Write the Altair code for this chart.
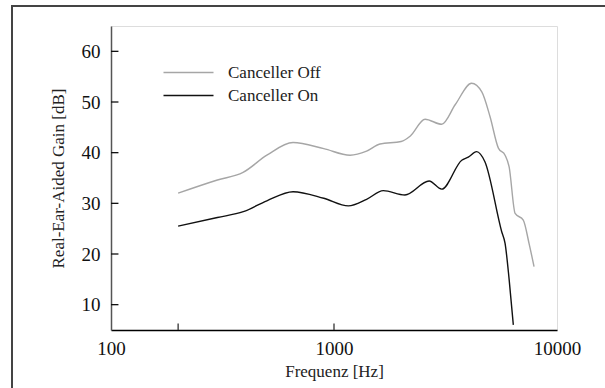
import altair as alt
import pandas as pd

# Canceller Off (grey)
off_freq = [200, 300, 391, 500, 655, 900, 1180, 1400, 1607, 2000, 2200, 2560, 3040, 3500, 4140, 4600, 5010, 5460, 5850, 6100, 6490, 7060, 7500, 7890]
off_gain = [32.0, 34.6, 36.1, 39.5, 42.0, 40.8, 39.5, 40.3, 41.7, 42.2, 43.3, 46.6, 45.6, 49.5, 53.7, 52.0, 47.1, 40.9, 39.5, 37.2, 28.0, 26.7, 22.0, 17.5]

# Canceller On (black)
on_freq = [200, 300, 392, 500, 655, 900, 1160, 1400, 1664, 2080, 2670, 3040, 3740, 4000, 4360, 4750, 5650, 5850, 6100, 6370]
on_gain = [25.5, 27.2, 28.35, 30.5, 32.3, 31.0, 29.5, 30.8, 32.5, 31.65, 34.4, 32.8, 38.5, 39.1, 40.2, 38.2, 24.4, 22.1, 15.0, 6.0]

series_names = ["Canceller Off", "Canceller On"]
series_colors = ["#a6a6a6", "#111111"]

y_ticks = [10, 20, 30, 40, 50, 60]
x_labels = [100, 1000, 10000]
x_inner_ticks = [200, 1000]

df = pd.concat([
    pd.DataFrame({"freq": off_freq, "gain": off_gain, "series": series_names[0]}),
    pd.DataFrame({"freq": on_freq, "gain": on_gain, "series": series_names[1]}),
])

FONT = "Liberation Serif"
xscale = alt.Scale(type="log", domain=[100, 10000], nice=False)
yscale = alt.Scale(domain=[5, 65], nice=False, zero=False)

lines = alt.Chart(df).mark_line(interpolate="monotone", strokeWidth=1.4).encode(
    x=alt.X("freq:Q", scale=xscale,
            axis=alt.Axis(values=x_labels, format="d", ticks=False, grid=False, labelFlush=False,
                          title="Frequenz [Hz]", labelPadding=9, titlePadding=5,
                          domainColor="#000", domainWidth=1.5,
                          labelFontSize=19, titleFontSize=17, labelFont=FONT, titleFont=FONT,
                          titleFontWeight="normal", labelColor="#111", titleColor="#222")),
    y=alt.Y("gain:Q", scale=yscale,
            axis=alt.Axis(values=y_ticks, ticks=False, grid=False, labelFlush=False,
                          title="Real-Ear-Aided Gain [dB]", labelPadding=11, titlePadding=14,
                          domainColor="#555", domainWidth=1.5,
                          labelFontSize=19, titleFontSize=17, labelFont=FONT, titleFont=FONT,
                          titleFontWeight="normal", labelColor="#111", titleColor="#222")),
    color=alt.Color("series:N", scale=alt.Scale(domain=series_names, range=series_colors),
                    legend=alt.Legend(title=None, orient="none", legendX=69, legendY=38,
                                      symbolType="M-5,0H5", symbolSize=100, symbolStrokeWidth=1.6,
                                      labelFont=FONT, labelFontSize=17, labelColor="#222",
                                      labelOffset=31, rowPadding=5)),
)

# inward tick marks on the y axis (short rules from the x-scale minimum)
ytick_df = pd.DataFrame({"tgain": y_ticks, "f0": [100.0] * len(y_ticks), "f1": [108.0] * len(y_ticks)})
yticks = alt.Chart(ytick_df).mark_rule(color="#111", strokeWidth=1.3).encode(
    x=alt.X("f0:Q", scale=xscale), x2=alt.X2("f1:Q"), y=alt.Y("tgain:Q", scale=yscale))

# inward tick marks on the x axis
xtick_df = pd.DataFrame({"tfreq": x_inner_ticks, "g0": [5.0] * len(x_inner_ticks), "g1": [6.3] * len(x_inner_ticks)})
xticks = alt.Chart(xtick_df).mark_rule(color="#333", strokeWidth=1.3).encode(
    x=alt.X("tfreq:Q", scale=xscale), y=alt.Y("g0:Q", scale=yscale), y2=alt.Y2("g1:Q"))

# outer frame (decoration around the whole figure)
frame_v = alt.Chart(pd.DataFrame({"a": [0]})).mark_rule(color="#444", strokeWidth=2).encode(
    x=alt.value(-99), y=alt.value(-20), y2=alt.value(400))
frame_h = alt.Chart(pd.DataFrame({"a": [0]})).mark_rule(color="#444", strokeWidth=2).encode(
    x=alt.value(-100), x2=alt.value(600), y=alt.value(-20))

chart = alt.layer(lines, yticks, xticks, frame_v, frame_h).properties(
    width=446, height=304,
    autosize=alt.AutoSizeParams(type="none"),
    padding={"left": 111, "top": 26, "right": 48, "bottom": 58},
).configure_view(stroke="#666", strokeWidth=1.5).configure(background="white")

chart.save("out.html", embed_options={"renderer": "svg", "actions": False})
